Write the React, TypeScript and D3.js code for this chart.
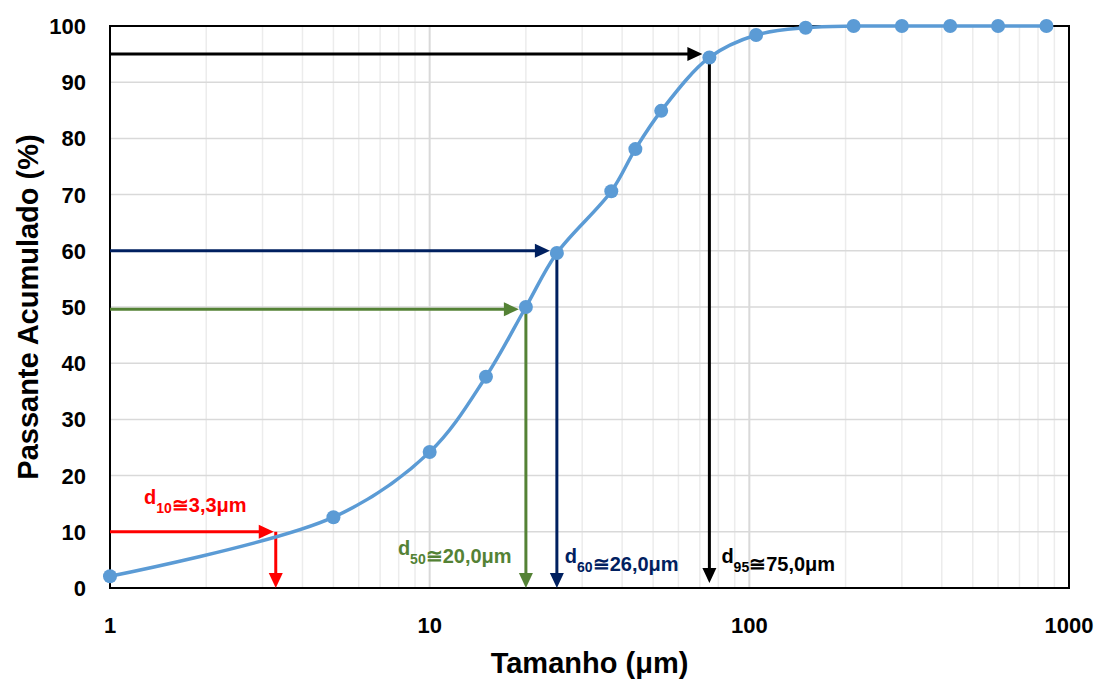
import React from 'react'
import * as d3 from 'd3'

// particle size distribution
const sizes = [1, 5, 10, 15, 20, 25, 37, 44, 53, 75, 105, 150, 212, 300, 425, 600, 850]
const passing = [2.1, 12.6, 24.2, 37.6, 50.0, 59.6, 70.6, 78.1, 84.9, 94.4, 98.4, 99.7, 100, 100, 100, 100, 100]

const yTicks = [0, 10, 20, 30, 40, 50, 60, 70, 80, 90, 100]
const xTicks = [1, 10, 100, 1000]

// characteristic diameters: horizontal level, diameter on x, label parts
const dNames = ['10', '50', '60', '95']
const dLevels = [10, 49.6, 60, 95]
const dSizes = [3.3, 20, 25, 75]
const dTexts = ['≅3,3μm', '≅20,0μm', '≅26,0μm', '≅75,0μm']
const dColors = ['#ff0000', '#548235', '#002060', '#000000']
const dOnPoint = [false, true, true, true]

const W = 1100, H = 679
const margin = {top: 26, right: 31, bottom: 91, left: 110}

export default function App() {
  const x = d3.scaleLog().domain([1, 1000]).range([margin.left, W - margin.right])
  const y = d3.scaleLinear().domain([0, 100]).range([H - margin.bottom, margin.top])

  const pts: [number, number][] = sizes.map((s, i) => [x(s), y(passing[i])])
  const line = d3.line().curve(d3.curveCatmullRom.alpha(0.5))(pts) || ''

  const minor: number[] = []
  for (const dec of [1, 10, 100]) for (let k = 2; k <= 9; k++) minor.push(dec * k)

  const y0 = y(0)
  // label positions (pixel offsets next to the arrows)
  const labelPos = [
    {lx: x(1) + 34, ly: 512},
    {lx: x(20) - 128, ly: 563},
    {lx: x(25) + 8, ly: 571},
    {lx: x(75) + 12, ly: 571},
  ]

  const head = (tx: number, ty: number, dir: 'right' | 'down', color: string) => {
    const L = 15, hw = 7
    const p = dir === 'right'
      ? `${tx},${ty} ${tx - L},${ty - hw} ${tx - L},${ty + hw}`
      : `${tx},${ty} ${tx - hw},${ty - L} ${tx + hw},${ty - L}`
    return <polygon points={p} fill={color} />
  }

  return (
    <svg width={W} height={H} style={{position: 'absolute', left: 0, top: 0, background: '#fff'}}
      fontFamily="'Liberation Sans', Arial, sans-serif" fontWeight="bold">
      {/* grid */}
      {minor.map(v => (
        <line key={'m' + v} x1={x(v)} x2={x(v)} y1={y(0)} y2={y(100)}
          stroke={v === 10 || v === 100 ? '#d9d9d9' : '#ececec'} strokeWidth={v === 10 || v === 100 ? 2 : 1.5} />
      ))}
      {[10, 100].map(v => (
        <line key={'M' + v} x1={x(v)} x2={x(v)} y1={y(0)} y2={y(100)} stroke="#d9d9d9" strokeWidth={2} />
      ))}
      {yTicks.map(v => (
        <line key={'h' + v} x1={x(1)} x2={x(1000)} y1={y(v)} y2={y(v)} stroke="#d9d9d9" strokeWidth={1.5} />
      ))}
      {/* frame */}
      <rect x={x(1)} y={y(100)} width={x(1000) - x(1)} height={y(0) - y(100)} fill="none" stroke="#000" strokeWidth={2} />

      {/* tick labels */}
      {yTicks.map(v => (
        <text key={'yt' + v} x={86} y={y(v)} dy="0.36em" textAnchor="end" fontSize={22}>{v}</text>
      ))}
      {xTicks.map(v => (
        <text key={'xt' + v} x={x(v)} y={633} textAnchor="middle" fontSize={22}>{v}</text>
      ))}

      {/* axis titles */}
      <text x={(x(1) + x(1000)) / 2} y={673} textAnchor="middle" fontSize={29}>Tamanho (μm)</text>
      <text transform={`translate(38,${(y(0) + y(100)) / 2}) rotate(-90)`} textAnchor="middle" fontSize={29}>
        Passante Acumulado (%)
      </text>

      {/* annotation arrows */}
      {dNames.map((n, i) => {
        const c = dColors[i]
        const hy = y(dLevels[i])
        const vx = x(dSizes[i])
        const tipX = dOnPoint[i] ? vx - 7 : vx - 2
        const vy = dOnPoint[i] ? y(passing[sizes.indexOf(dSizes[i])]) : hy
        return (
          <g key={'a' + n}>
            <line x1={x(1)} x2={tipX - 10} y1={hy} y2={hy} stroke={c} strokeWidth={3} />
            {head(tipX, hy, 'right', c)}
            <line x1={vx} x2={vx} y1={vy} y2={y0 - 12} stroke={c} strokeWidth={3} />
            {head(vx, i === 3 ? y0 - 5 : y0, 'down', c)}
          </g>
        )
      })}

      {/* curve and markers */}
      <path d={line} fill="none" stroke="#5b9bd5" strokeWidth={3.5} />
      {pts.map((p, i) => (
        <circle key={'p' + i} cx={p[0]} cy={p[1]} r={7} fill="#5b9bd5" />
      ))}

      {/* labels */}
      {dNames.map((n, i) => (
        <text key={'l' + n} x={labelPos[i].lx} y={labelPos[i].ly} fill={dColors[i]} fontSize={20}>
          <tspan dy={-8}>d</tspan>
          <tspan dy={9} fontSize={14}>{n}</tspan>
          <tspan dy={-1}>{dTexts[i]}</tspan>
        </text>
      ))}
    </svg>
  )
}
